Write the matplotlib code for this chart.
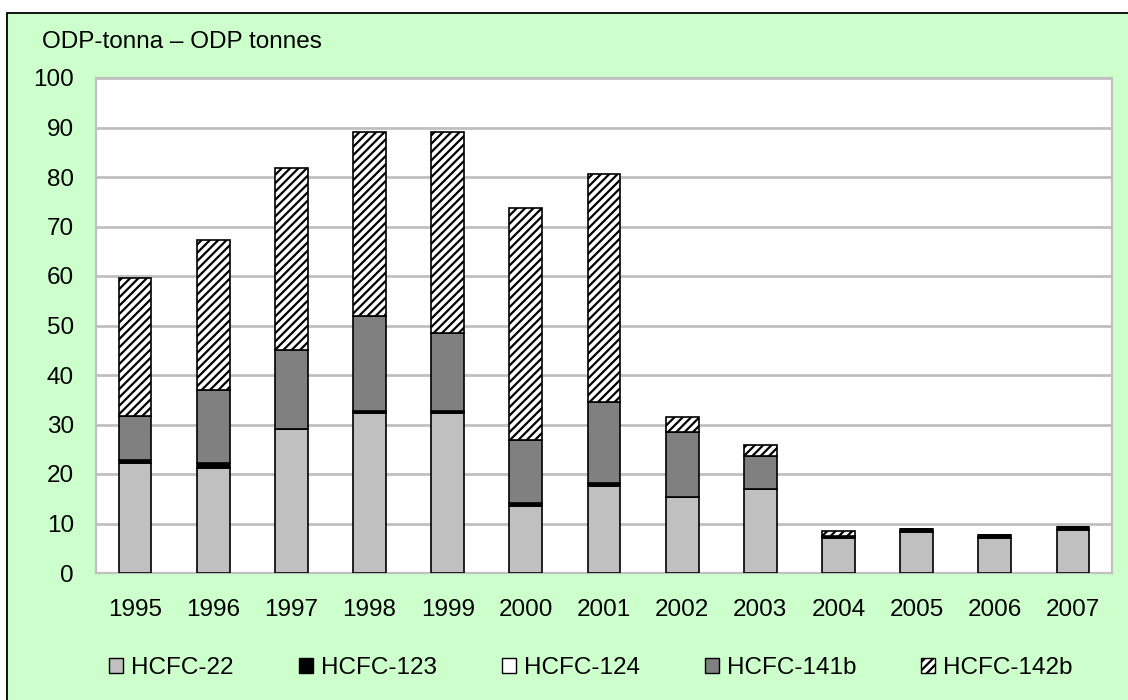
"""ODP tonnes of HCFC consumption by substance, 1995-2007."""
import matplotlib
matplotlib.use("Agg")
import matplotlib.pyplot as plt
from matplotlib.patches import Patch, Rectangle
import numpy as np

plt.rcParams["font.family"] = ["Liberation Sans", "DejaVu Sans"]
plt.rcParams["hatch.linewidth"] = 1.6

YEARS = ["1995", "1996", "1997", "1998", "1999", "2000", "2001",
         "2002", "2003", "2004", "2005", "2006", "2007"]
HCFC_22 = [22.2, 21.3, 29.0, 32.3, 32.3, 13.5, 17.6, 15.3, 17.0, 7.1, 8.3, 7.1, 8.7]
HCFC_123 = [0.6, 0.9, 0.1, 0.4, 0.4, 0.6, 0.6, 0.0, 0.0, 0.3, 0.5, 0.5, 0.6]
HCFC_124 = [0.0] * 13
HCFC_141B = [9.0, 14.8, 15.9, 19.2, 15.8, 12.8, 16.4, 13.2, 6.7, 0.0, 0.0, 0.0, 0.0]
HCFC_142B = [27.8, 30.2, 36.8, 37.2, 40.6, 46.8, 46.0, 3.0, 2.2, 1.0, 0.0, 0.0, 0.0]

SERIES = [
    ("HCFC-22", HCFC_22, "#c0c0c0", None),
    ("HCFC-123", HCFC_123, "#000000", None),
    ("HCFC-124", HCFC_124, "#ffffff", None),
    ("HCFC-141b", HCFC_141B, "#808080", None),
    ("HCFC-142b", HCFC_142B, "#ffffff", "////"),
]

GREEN = "#ccffcc"
GRID = "#c0c0c0"
FS = 17.5

fig = plt.figure(figsize=(11.28, 7.0), dpi=100, facecolor="white")
# green panel with black border, cropped at right and bottom
panel = Rectangle((7 / 1128, -0.05), 1.1, 1 - 13 / 700 + 0.05,
                  transform=fig.transFigure, facecolor=GREEN,
                  edgecolor="black", linewidth=1.3, zorder=-10)
fig.add_artist(panel)

ax = fig.add_axes([96 / 1128, 1 - 573 / 700, (1112 - 96) / 1128, (573 - 78) / 700])
ax.set_zorder(1)
ax.set_facecolor("white")

x = np.arange(len(YEARS))
bottom = np.zeros(len(YEARS))
for label, vals, color, hatch in SERIES:
    vals = np.array(vals)
    ax.bar(x, vals, bottom=bottom, width=0.42, color=color, hatch=hatch,
           edgecolor="black", linewidth=1.2, zorder=3)
    bottom += vals

ax.set_ylim(0, 100)
ax.set_xlim(-0.5, len(YEARS) - 0.5)
ax.set_yticks(range(0, 101, 10))
ax.set_xticks(x)
ax.set_xticklabels(YEARS)
ax.tick_params(axis="both", length=0, labelsize=FS)
ax.tick_params(axis="y", pad=16)
ax.tick_params(axis="x", pad=19)
ax.grid(axis="y", color=GRID, linewidth=2.0, zorder=1)
for side in ("left", "right", "top", "bottom"):
    ax.spines[side].set_color(GRID)
    ax.spines[side].set_linewidth(1.6)

fig.text(42 / 1128, 1 - 42 / 700, "ODP-tonna – ODP tonnes", fontsize=FS,
         ha="left", va="center")

handles = [Patch(facecolor=c, edgecolor="black", hatch=h, linewidth=1.0, label=l)
           for l, _, c, h in SERIES]
fig.legend(handles=handles, loc="center", ncol=5, frameon=False, fontsize=FS,
           bbox_to_anchor=(591 / 1128, 1 - 668 / 700), handlelength=0.58,
           handleheight=0.58, handletextpad=0.33, columnspacing=2.67)

fig.savefig("out.png", dpi=100, facecolor=fig.get_facecolor())
